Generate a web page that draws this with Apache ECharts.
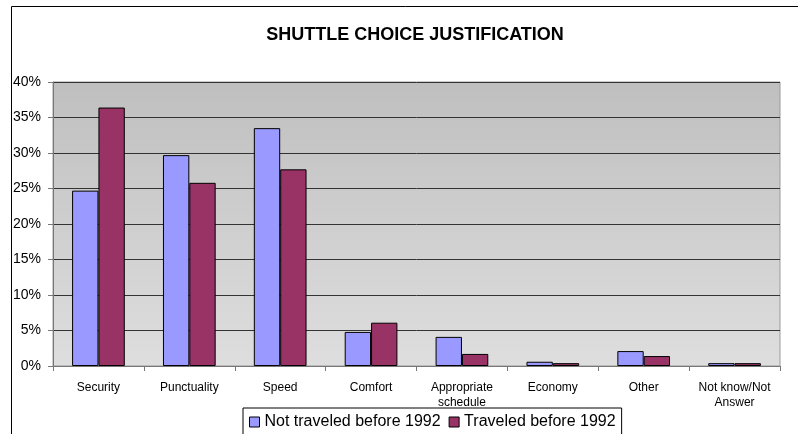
<!DOCTYPE html>
<html>
<head>
<meta charset="utf-8">
<script src="https://cdn.jsdelivr.net/npm/echarts@6/dist/echarts.min.js"></script>
<style>
  html, body { margin: 0; padding: 0; background: #fff; }
  #chart { width: 798px; height: 434px; }
</style>
</head>
<body>
<div id="chart"></div>
<script>
// Reasons given for choosing the shuttle, share of respondents (%)
const categories = [
  'Security', 'Punctuality', 'Speed', 'Comfort',
  'Appropriate\nschedule', 'Economy', 'Other', 'Not know/Not\nAnswer'
];
const notTraveled = [24.7, 29.7, 33.5, 4.8, 4.1, 0.6, 2.1, 0.4];
const traveled = [36.4, 25.8, 27.7, 6.1, 1.7, 0.4, 1.4, 0.4];
const seriesNames = ['Not traveled before 1992', 'Traveled before 1992'];
const yTicks = [0, 5, 10, 15, 20, 25, 30, 35, 40];

const FONT = '"Liberation Sans", Arial, sans-serif';
const chart = echarts.init(document.getElementById('chart'), null, { renderer: 'canvas' });

chart.setOption({
  animation: false,
  backgroundColor: '#ffffff',
  textStyle: { fontFamily: FONT },
  title: {
    text: 'SHUTTLE CHOICE JUSTIFICATION',
    left: 410,
    textAlign: 'center',
    top: 21,
    textStyle: { fontFamily: FONT, fontSize: 18, fontWeight: 'bold', color: '#000' }
  },
  graphic: [{
    type: 'rect',
    shape: { x: 11.5, y: 6.5, width: 800, height: 440 },
    style: { fill: 'none', stroke: '#000', lineWidth: 1 },
    silent: true,
    z: -1
  }],
  grid: {
    left: 53, right: 18, top: 82, bottom: 68,
    show: true,
    borderColor: '#9a9a9a',
    borderWidth: 1,
    backgroundColor: {
      type: 'linear', x: 0, y: 0, x2: 0, y2: 1,
      colorStops: [
        { offset: 0, color: '#bfbfbf' },
        { offset: 1, color: '#dedede' }
      ]
    }
  },
  legend: {
    data: seriesNames,
    left: 243,
    top: 408,
    padding: [6, 6, 20, 6],
    itemGap: 8,
    itemWidth: 10,
    itemHeight: 10,
    icon: 'rect',
    borderColor: '#000',
    borderWidth: 1,
    backgroundColor: '#fff',
    textStyle: { fontFamily: FONT, fontSize: 16, color: '#000', padding: [0, 0, 0, 0] },
    itemStyle: { borderColor: '#000', borderWidth: 1 }
  },
  xAxis: {
    type: 'category',
    data: categories,
    axisLine: { show: true, lineStyle: { color: '#777', width: 1 } },
    axisTick: { show: true, inside: false, length: 5, alignWithLabel: false, lineStyle: { color: '#777' } },
    axisLabel: {
      interval: 0, margin: 14, fontSize: 12, lineHeight: 15,
      color: '#000', fontFamily: FONT
    },
    splitLine: { show: false }
  },
  yAxis: {
    type: 'value',
    min: 0, max: 40, interval: 5,
    axisLine: { show: true, lineStyle: { color: '#777', width: 1 } },
    axisTick: { show: true, length: 5, lineStyle: { color: '#777' } },
    axisLabel: {
      margin: 12, fontSize: 14, color: '#000', fontFamily: FONT,
      formatter: v => yTicks.includes(v) ? v + '%' : ''
    },
    splitLine: { show: true, lineStyle: { color: '#333', width: 1 } }
  },
  series: [
    {
      name: seriesNames[0],
      type: 'bar',
      data: notTraveled,
      barGap: '0%',
      barCategoryGap: '42%',
      itemStyle: { color: '#9999ff', borderColor: '#000', borderWidth: 1 }
    },
    {
      name: seriesNames[1],
      type: 'bar',
      data: traveled,
      barGap: '0%',
      barCategoryGap: '42%',
      itemStyle: { color: '#993366', borderColor: '#000', borderWidth: 1 }
    }
  ]
});
</script>
</body>
</html>
